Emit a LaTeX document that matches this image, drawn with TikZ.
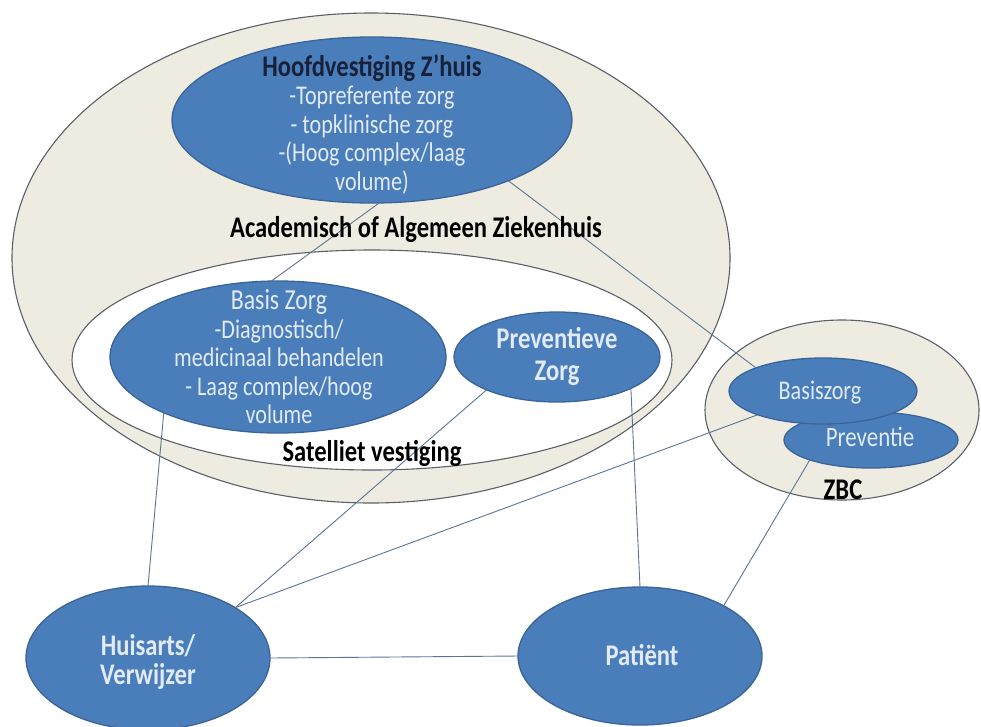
\documentclass[tikz,border=0pt]{standalone}
\usepackage{fontspec}
\setmainfont{Carlito}[FakeStretch=0.82]
\usetikzlibrary{shapes.geometric}
\definecolor{blueF}{HTML}{4A7EBB}
\definecolor{blueD}{HTML}{3A6497}
\definecolor{beige}{HTML}{EEECE1}
\definecolor{rim}{HTML}{5A6068}
\definecolor{linkc}{HTML}{5C7596}
\definecolor{lighttxt}{HTML}{E2EAF5}
\definecolor{navy}{HTML}{17213A}
\begin{document}
\begin{tikzpicture}[x=1pt,y=-1pt,
  every node/.style={inner sep=0pt, outer sep=0pt},
  container/.style={ellipse, draw=rim, line width=1.1pt},
  bluebox/.style={ellipse, fill=blueF, draw=blueD, line width=1.3pt},
  link/.style={draw=linkc, line width=0.9pt},
  darktxt/.style={align=center, text=black, font=\fontsize{30}{30}\selectfont\bfseries},
  lighttext/.style={align=center, text=lighttxt, font=\fontsize{27}{28.5}\selectfont},
  lightbold/.style={align=center, text=lighttxt, font=\fontsize{30}{30}\selectfont\bfseries}]
\useasboundingbox (0,0) rectangle (981,726);
\fill[white] (0,0) rectangle (981,726);
% containers
\node[container, fill=beige, minimum width=718pt, minimum height=490pt] (hosp) at (371,258) {};
\node[container, fill=white, minimum width=600pt, minimum height=220pt] (sat) at (372,360) {};
\node[container, fill=beige, minimum width=274pt, minimum height=180pt] (zbc) at (842,410) {};
% blue ellipses
\node[bluebox, minimum width=400pt, minimum height=166pt] (hoofd) at (372,120) {};
\node[bluebox, minimum width=336pt, minimum height=152pt] (basis) at (278,357) {};
\node[bluebox, minimum width=206pt, minimum height=90pt] (prev) at (557,357) {};
\node[bluebox, minimum width=174pt, minimum height=56pt] (pv) at (871,440) {};
\node[bluebox, minimum width=188pt, minimum height=66pt] (bz) at (823,391) {};
\node[bluebox, minimum width=244pt, minimum height=144pt] (huis) at (148,658) {};
\node[bluebox, minimum width=244pt, minimum height=138pt] (pat) at (640,656) {};
% connectors
\draw[link] (hoofd.-85) -- (basis.95);
\draw[link] (hoofd.-24) -- (bz.161);
\draw[link] (basis.-154) -- (huis.90);
\draw[link] (prev.-155) -- (huis.30);
\draw[link] (bz.-160) -- (huis.30);
\draw[link] (prev.-23) -- (pat.90);
\draw[link] (pv.-162) -- (pat.31);
\draw[link] (huis.0) -- (pat.180);
% texts
\node[lighttext] (hoofdT) at (372,124) {{\fontsize{30}{28.5}\selectfont\bfseries\color{navy}Hoofdvestiging Z’huis}\\-Topreferente zorg\\- topklinische zorg\\-(Hoog complex/laag\\volume)};
\node[darktxt] (hospT) at (416,230) {Academisch of Algemeen Ziekenhuis};
\node[lighttext] (basisT) at (279,357) {{\fontsize{29}{28.5}\selectfont Basis Zorg}\\-Diagnostisch/\\medicinaal behandelen\\- Laag complex/hoog\\volume};
\node[lightbold, font=\fontsize{30}{32}\selectfont\bfseries] (prevT) at (557,356) {Preventieve\\Zorg};
\node[darktxt] (satT) at (372,453) {Satelliet vestiging};
\node[lighttext] (bzT) at (820,393) {Basiszorg};
\node[lighttext, font=\fontsize{28}{28}\selectfont] (pvT) at (870,437) {Preventie};
\node[darktxt] (zbcT) at (843,490) {ZBC};
\node[lightbold, font=\fontsize{30}{29}\selectfont\bfseries] (huisT) at (148,662) {Huisarts/\\Verwijzer};
\node[lightbold] (patT) at (642,655) {Patiënt};
\end{tikzpicture}
\end{document}
